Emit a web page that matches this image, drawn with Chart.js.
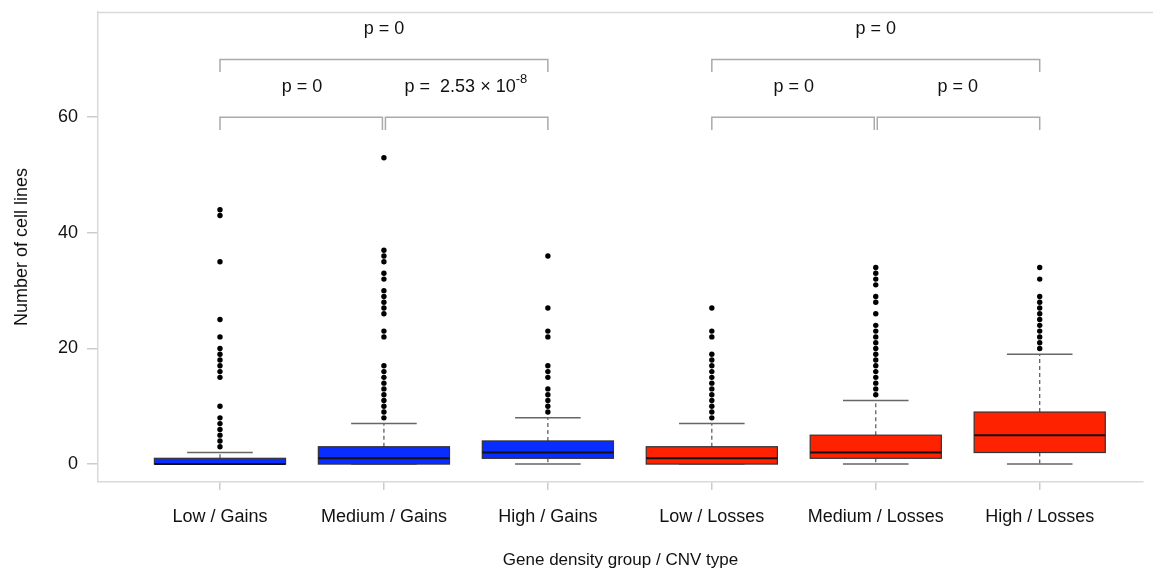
<!DOCTYPE html>
<html>
<head>
<meta charset="utf-8">
<script src="https://cdn.jsdelivr.net/npm/chart.js@4/dist/chart.umd.min.js"></script>
<style>
html,body{margin:0;padding:0;background:#fff;}
#wrap{width:1155px;height:571px;position:relative;}
</style>
</head>
<body>
<div id="wrap"><canvas id="c" width="1155" height="571"></canvas></div>
<script>
const categories = ["Low / Gains","Medium / Gains","High / Gains","Low / Losses","Medium / Losses","High / Losses"];
const boxColors = ["#0a2dff","#0a2dff","#0a2dff","#ff2200","#ff2200","#ff2200"];
const whiskerLow = [0,0,0,0,0,0];
const q1 = [0,0,1,0,1,2];
const median = [0,1,2,1,2,5];
const q3 = [1,3,4,3,5,9];
const whiskerHigh = [2,7,8,7,11,19];
const outliersLowGains = [44,43,35,25,22,20,19,18,17,16,15,10,8,7,6,5,4,3];
const outliersMediumGains = [53,37,36,35,33,32,30,29,28,27,26,23,22,17,16,15,14,13,12,11,10,9,8];
const outliersHighGains = [36,27,23,22,17,16,15,13,12,11,10,9];
const outliersLowLosses = [27,23,22,19,18,17,16,15,14,13,12,11,10,9,8];
const outliersMediumLosses = [34,33,32,31,29,28,26,24,23,22,21,20,19,18,17,16,15,14,13,12];
const outliersHighLosses = [34,32,29,28,27,26,25,24,23,22,21,20];
const yTicks = [0,20,40,60];
// comparisons: from group, to group, bracket height, label
const compFrom = [1,2,1,4,5,4];
const compTo = [2,3,3,5,6,6];
const compHeight = [60,60,70,60,60,70];
const compLabel = ["p = 0","p = 2.53\u00d710^-8","p = 0","p = 0","p = 0","p = 0"];

const allOutliers = [outliersLowGains,outliersMediumGains,outliersHighGains,outliersLowLosses,outliersMediumLosses,outliersHighLosses];
const outlierPoints = [];
allOutliers.forEach((arr,i)=>arr.forEach(v=>outlierPoints.push({x:i+1,y:v})));

const FONT = "'Liberation Sans', Arial, sans-serif";
const FS = 18;
const BOX_W = 0.4, CAP_W = 0.2;

const boxPlugin = {
  id:'boxes',
  beforeDatasetsDraw(chart){
    const ctx = chart.ctx, xs = chart.scales.x, ys = chart.scales.y, ca = chart.chartArea;
    ctx.save();
    // top frame line
    ctx.strokeStyle = '#d9d9d9'; ctx.lineWidth = 1.5;
    ctx.beginPath(); ctx.moveTo(ca.left, ca.top+0.5); ctx.lineTo(chart.width-2, ca.top+0.5); ctx.stroke();
    for(let i=0;i<categories.length;i++){
      const c = i+1;
      const xl = xs.getPixelForValue(c-BOX_W), xr = xs.getPixelForValue(c+BOX_W), xc = xs.getPixelForValue(c);
      const cl = xs.getPixelForValue(c-CAP_W), cr = xs.getPixelForValue(c+CAP_W);
      const yq1 = ys.getPixelForValue(q1[i]), yq3 = ys.getPixelForValue(q3[i]);
      const ym = ys.getPixelForValue(median[i]);
      const ywl = ys.getPixelForValue(whiskerLow[i]), ywh = ys.getPixelForValue(whiskerHigh[i]);
      // whiskers dashed
      ctx.strokeStyle = '#555'; ctx.lineWidth = 1.2; ctx.setLineDash([4,3]);
      ctx.beginPath(); ctx.moveTo(xc,yq3); ctx.lineTo(xc,ywh); ctx.moveTo(xc,yq1); ctx.lineTo(xc,ywl); ctx.stroke();
      ctx.setLineDash([]);
      ctx.strokeStyle = '#666'; ctx.lineWidth = 1.5;
      ctx.beginPath(); ctx.moveTo(cl,ywh); ctx.lineTo(cr,ywh); ctx.moveTo(cl,ywl); ctx.lineTo(cr,ywl); ctx.stroke();
      // box
      ctx.fillStyle = boxColors[i];
      ctx.fillRect(xl, yq3, xr-xl, yq1-yq3);
      ctx.strokeStyle = '#333'; ctx.lineWidth = 1.2;
      ctx.strokeRect(xl, yq3, xr-xl, yq1-yq3);
      ctx.strokeStyle = '#111'; ctx.lineWidth = 2;
      ctx.beginPath(); ctx.moveTo(xl,ym); ctx.lineTo(xr,ym); ctx.stroke();
    }
    // brackets
    for(let k=0;k<compFrom.length;k++){
      let x1 = xs.getPixelForValue(compFrom[k]), x2 = xs.getPixelForValue(compTo[k]);
      if(compHeight[k]===60){ if(compFrom[k]%3===2){x1+=1.5;} else {x2-=1.5;} }
      const y = ys.getPixelForValue(compHeight[k]);
      const yLeg = ys.getPixelForValue(compHeight[k]-2.2);
      ctx.strokeStyle = '#aaa'; ctx.lineWidth = 1.5;
      ctx.beginPath(); ctx.moveTo(x1,yLeg); ctx.lineTo(x1,y); ctx.lineTo(x2,y); ctx.lineTo(x2,yLeg); ctx.stroke();
      const tx = (xs.getPixelForValue(compFrom[k]) + xs.getPixelForValue(compTo[k]))/2;
      const ty = ys.getPixelForValue(compHeight[k]+5.2);
      ctx.fillStyle = '#111'; ctx.textBaseline = 'middle';
      const lab = compLabel[k];
      if(lab.indexOf('^')>=0){
        const parts = lab.split('^');
        ctx.font = FS + 'px ' + FONT;
        const main = parts[0].replace('p = ','p =  ').replace('\u00d7',' \u00d7 ');
        const w1 = ctx.measureText(main).width;
        ctx.font = '13px ' + FONT;
        const w2 = ctx.measureText(parts[1]).width;
        const start = tx - (w1+w2)/2;
        ctx.textAlign = 'left';
        ctx.font = FS + 'px ' + FONT;
        ctx.fillText(main, start, ty);
        ctx.font = '13px ' + FONT;
        ctx.fillText(parts[1], start+w1, ty-8);
      } else {
        ctx.font = FS + 'px ' + FONT; ctx.textAlign = 'center';
        ctx.fillText(lab, tx, ty);
      }
    }
    ctx.restore();
  }
};

new Chart(document.getElementById('c'), {
  type:'scatter',
  data:{datasets:[{
    data: outlierPoints,
    backgroundColor:'#000', borderColor:'#000', pointRadius:2.7, pointHoverRadius:2.7, borderWidth:0
  }]},
  options:{
    responsive:false, animation:false, devicePixelRatio:1,
    layout:{padding:{top:12,right:12,left:11,bottom:0}},
    plugins:{legend:{display:false}, tooltip:{enabled:false}},
    scales:{
      x:{
        type:'linear', min:0.256, max:6.63,
        afterBuildTicks(s){ s.ticks = categories.map((c,i)=>({value:i+1})); },
        afterFit(s){ s.height = 89; s.paddingLeft = 0; s.paddingRight = 0; },
        ticks:{ callback:(v)=>categories[Math.round(v)-1] || '', color:'#111', font:{family:FONT,size:FS}, padding:16, maxRotation:0, autoSkip:false },
        grid:{ display:true, drawOnChartArea:false, drawTicks:true, tickLength:8, color:'#ccc', lineWidth:1.5 },
        border:{ display:true, color:'#d9d9d9', width:1.5 },
        title:{ display:true, text:'Gene density group / CNV type', color:'#111', font:{family:FONT,size:17}, padding:{top:0,bottom:0} }
      },
      y:{
        min:-3.1, max:78.2,
        afterBuildTicks(s){ s.ticks = yTicks.map(v=>({value:v})); },
        afterFit(s){ s.width = 87; s.paddingTop = 0; s.paddingBottom = 0; },
        ticks:{ color:'#111', font:{family:FONT,size:FS}, padding:9 },
        grid:{ display:true, drawOnChartArea:false, drawTicks:true, tickLength:11, color:'#ccc', lineWidth:1.5 },
        border:{ display:true, color:'#d9d9d9', width:1.5 },
        title:{ display:true, text:'Number of cell lines', color:'#111', font:{family:FONT,size:18}, padding:{top:0,bottom:0} }
      }
    }
  },
  plugins:[boxPlugin]
});
</script>
</body>
</html>
